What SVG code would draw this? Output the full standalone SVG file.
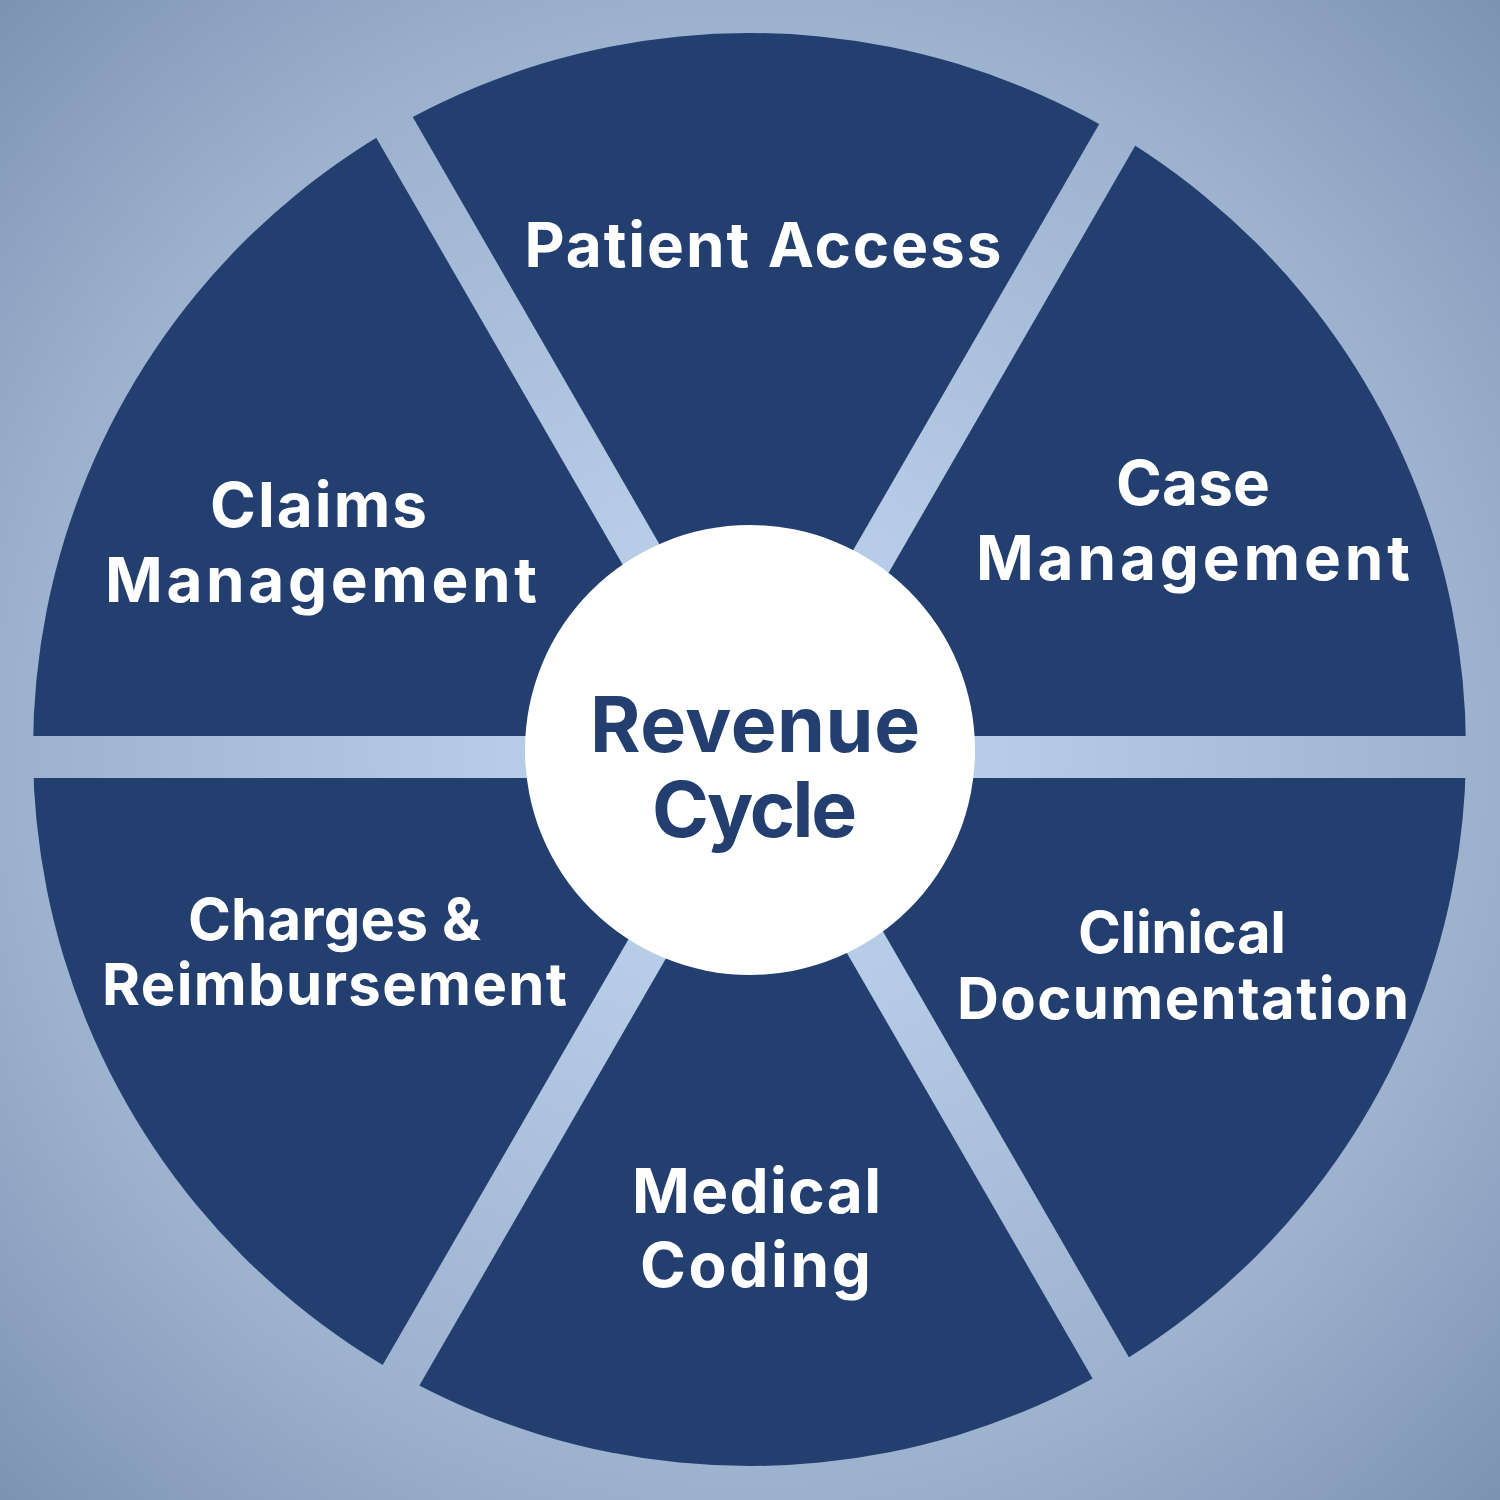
<svg xmlns="http://www.w3.org/2000/svg" width="1500" height="1500" viewBox="0 0 1500 1500">
  <defs>
    <radialGradient id="bg" cx="750" cy="750" r="1060" gradientUnits="userSpaceOnUse">
      <stop offset="0" stop-color="#c0d4ef"/>
      <stop offset="0.25" stop-color="#b6cbe6"/>
      <stop offset="0.7" stop-color="#9cb1cd"/>
      <stop offset="1" stop-color="#7d93b3"/>
    </radialGradient>
    <clipPath id="wheel">
      <circle cx="749.5" cy="749.5" r="716.5"/>
    </clipPath>
    <style>
      .seg { fill: #233f70; }
      .lbl { font-family: Inter, "Liberation Sans", sans-serif; font-weight: 700; fill: #ffffff; text-anchor: middle; }
      .big { font-size: 62px; }
      .small { font-size: 58px; }
      .hub { font-family: Inter, "Liberation Sans", sans-serif; font-weight: 700; fill: #233f70; text-anchor: middle; font-size: 77px; }
    </style>
  </defs>
  <rect x="0" y="0" width="1500" height="1500" fill="url(#bg)"/>
  <g id="connectors"/>
  <g id="patient-access">
    <polygon class="seg" clip-path="url(#wheel)" points="758,715 8,-584 1508,-584"/>
    <text class="lbl big" x="763" y="267" textLength="477" lengthAdjust="spacing">Patient Access</text>
  </g>
  <g id="case-management">
    <polygon class="seg" clip-path="url(#wheel)" points="794.4,736 1544.4,-563 2294.4,736"/>
    <text class="lbl big" x="1193" y="505" textLength="154" lengthAdjust="spacing">Case</text>
    <text class="lbl big" x="1193" y="580" textLength="434" lengthAdjust="spacing">Management</text>
  </g>
  <g id="clinical-documentation">
    <polygon class="seg" clip-path="url(#wheel)" points="794.4,778 2294.4,778 1544.4,2077"/>
    <text class="lbl small" x="1182" y="953" textLength="208" lengthAdjust="spacing">Clinical</text>
    <text class="lbl small" x="1183" y="1019" textLength="452" lengthAdjust="spacing">Documentation</text>
  </g>
  <g id="medical-coding">
    <polygon class="seg" clip-path="url(#wheel)" points="758,799 1508,2098 8,2098"/>
    <text class="lbl big" x="756.5" y="1213" textLength="249" lengthAdjust="spacing">Medical</text>
    <text class="lbl big" x="755.5" y="1287" textLength="231" lengthAdjust="spacing">Coding</text>
  </g>
  <g id="charges-reimbursement">
    <polygon class="seg" clip-path="url(#wheel)" points="721.6,778 -28.4,2077 -778.4,778"/>
    <text class="lbl small" x="334.5" y="940" textLength="293" lengthAdjust="spacing">Charges &amp;</text>
    <text class="lbl small" x="334.5" y="1005" textLength="465" lengthAdjust="spacing">Reimbursement</text>
  </g>
  <g id="claims-management">
    <polygon class="seg" clip-path="url(#wheel)" points="721.6,736 -778.4,736 -28.4,-563"/>
    <text class="lbl big" x="318.5" y="527" textLength="217" lengthAdjust="spacing">Claims</text>
    <text class="lbl big" x="321" y="602" textLength="432" lengthAdjust="spacing">Management</text>
  </g>
  <g id="revenue-cycle">
    <circle cx="750" cy="750" r="225" fill="#ffffff"/>
    <text class="hub" x="755" y="752" textLength="330" lengthAdjust="spacing">Revenue</text>
    <text class="hub" x="754.5" y="837" textLength="205" lengthAdjust="spacing">Cycle</text>
  </g>
</svg>
